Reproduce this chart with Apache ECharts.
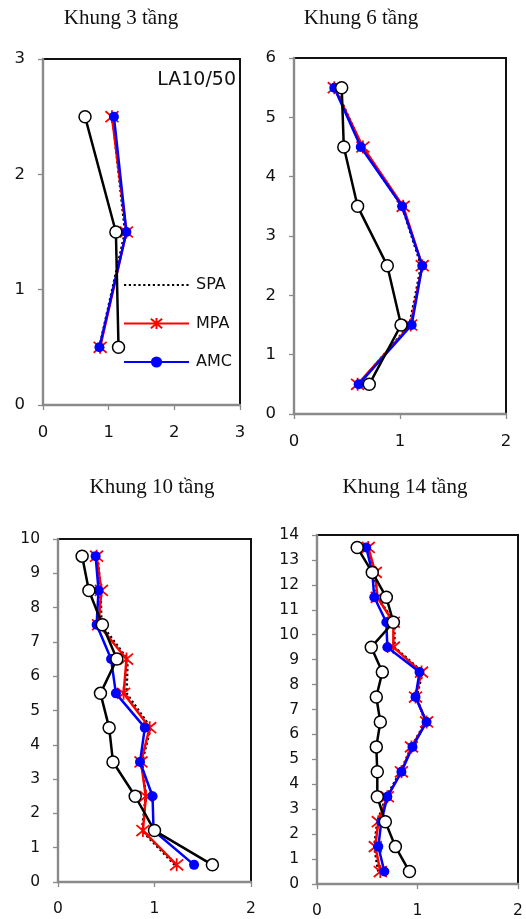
<!DOCTYPE html>
<html>
<head>
<meta charset="utf-8">
<script src="https://cdn.jsdelivr.net/npm/echarts@6/dist/echarts.min.js"></script>
<style>
  html, body { margin: 0; padding: 0; background: #fff; }
  #chart { width: 526px; height: 919px; }
</style>
</head>
<body>
<div id="chart"></div>
<script>
// Storey drift profiles, listed from the first storey (bottom) upward.
// Each storey value is plotted at mid-height (0.5, 1.5, ...).

// Khung 3 tầng
const rha3 = [1.15, 1.11, 0.64];
const spa3 = [0.86, 1.25, 1.06];
const mpa3 = [0.87, 1.27, 1.05];
const amc3 = [0.86, 1.27, 1.08];

// Khung 6 tầng
const rha6 = [0.71, 1.01, 0.88, 0.60, 0.47, 0.45];
const spa6 = [0.61, 1.09, 1.20, 1.02, 0.64, 0.39];
const mpa6 = [0.60, 1.10, 1.21, 1.03, 0.65, 0.38];
const amc6 = [0.61, 1.11, 1.21, 1.02, 0.63, 0.38];

// Khung 10 tầng
const rha10 = [1.60, 1.00, 0.80, 0.57, 0.53, 0.44, 0.61, 0.46, 0.32, 0.25];
const spa10 = [1.21, 0.87, 0.91, 0.87, 0.96, 0.71, 0.72, 0.45, 0.44, 0.41];
const mpa10 = [1.23, 0.88, 0.91, 0.86, 0.95, 0.68, 0.71, 0.42, 0.45, 0.40];
const amc10 = [1.41, 0.99, 0.98, 0.85, 0.90, 0.60, 0.55, 0.40, 0.42, 0.39];

// Khung 14 tầng
const rha14 = [0.92, 0.78, 0.68, 0.60, 0.60, 0.59, 0.63, 0.59, 0.65, 0.54, 0.76, 0.69, 0.55, 0.40];
const spa14 = [0.61, 0.57, 0.60, 0.69, 0.83, 0.94, 1.08, 0.99, 1.05, 0.77, 0.77, 0.60, 0.57, 0.50];
const mpa14 = [0.63, 0.58, 0.61, 0.70, 0.84, 0.94, 1.09, 0.98, 1.04, 0.76, 0.76, 0.60, 0.58, 0.51];
const amc14 = [0.67, 0.61, 0.64, 0.70, 0.84, 0.95, 1.09, 0.98, 1.02, 0.70, 0.69, 0.57, 0.55, 0.49];

// Axis tick values
const xTicks3 = [0, 1, 2, 3];
const xTicks2 = [0, 1, 2];
const yTicks3 = [0, 1, 2, 3];
const yTicks6 = [0, 1, 2, 3, 4, 5, 6];
const yTicks10 = [0, 1, 2, 3, 4, 5, 6, 7, 8, 9, 10];
const yTicks14 = [0, 1, 2, 3, 4, 5, 6, 7, 8, 9, 10, 11, 12, 13, 14];

const panelTitles = ['Khung 3 tầng', 'Khung 6 tầng', 'Khung 10 tầng', 'Khung 14 tầng'];
const legendNames = ['SPA', 'MPA', 'AMC'];

const panels = [
  { rha: rha3, spa: spa3, mpa: mpa3, amc: amc3, xt: xTicks3, yt: yTicks3,
    grid: { left: 43, top: 59, width: 197, height: 346 }, font: 16.5,
    title: [121, 18] },
  { rha: rha6, spa: spa6, mpa: mpa6, amc: amc6, xt: xTicks2, yt: yTicks6,
    grid: { left: 294, top: 58, width: 212, height: 356 }, font: 16.5,
    title: [361, 18] },
  { rha: rha10, spa: spa10, mpa: mpa10, amc: amc10, xt: xTicks2, yt: yTicks10,
    grid: { left: 58, top: 539, width: 193, height: 343 }, font: 15.5,
    title: [152, 487] },
  { rha: rha14, spa: spa14, mpa: mpa14, amc: amc14, xt: xTicks2, yt: yTicks14,
    grid: { left: 317, top: 535, width: 201, height: 351 }, font: 15.5,
    title: [405, 487] }
];

const AXIS_GREY = '#8a8a8a';
const asterisk = 'path://M0,0L10,10M10,0L0,10M5,-1L5,11';

function points(vals) {
  return vals.map((v, i) => [v, i + 0.5]);
}

const grids = [], xAxes = [], yAxes = [], series = [], graphics = [];

panels.forEach((p, k) => {
  grids.push(Object.assign({ show: true, borderColor: '#111', borderWidth: 2,
    backgroundColor: '#fff', z: 0 }, p.grid));
  const axisCommon = {
    z: 6,
    axisLine: { show: true, onZero: false, lineStyle: { color: AXIS_GREY, width: 2.4 } },
    axisTick: { show: true, inside: false, length: 5, lineStyle: { color: AXIS_GREY, width: 1.3 } },
    splitLine: { show: false },
    axisLabel: { color: '#111', fontFamily: 'DejaVu Sans', fontSize: p.font, margin: 18 }
  };
  xAxes.push(Object.assign({
    type: 'value', gridIndex: k,
    min: p.xt[0], max: p.xt[p.xt.length - 1], interval: 1
  }, axisCommon, { axisLabel: Object.assign({}, axisCommon.axisLabel, { margin: 19 }) }));
  yAxes.push(Object.assign({
    type: 'value', gridIndex: k,
    min: p.yt[0], max: p.yt[p.yt.length - 1], interval: 1
  }, axisCommon));

  series.push({
    name: 'SPA', type: 'line', xAxisIndex: k, yAxisIndex: k, z: 2,
    data: points(p.spa), showSymbol: false, symbol: 'none',
    lineStyle: { color: '#000', width: 2.6, type: [2.2, 2.6] },
    itemStyle: { color: '#000' }, animation: false
  });
  series.push({
    name: 'MPA', type: 'line', xAxisIndex: k, yAxisIndex: k, z: 3,
    data: points(p.mpa), symbol: asterisk, symbolSize: 13,
    lineStyle: { color: '#ff0000', width: 2.5 },
    itemStyle: { color: '#ff0000', borderColor: '#ff0000', borderWidth: 1.8 },
    animation: false
  });
  series.push({
    name: 'AMC', type: 'line', xAxisIndex: k, yAxisIndex: k, z: 4,
    data: points(p.amc), symbol: 'circle', symbolSize: 10,
    lineStyle: { color: '#0000ff', width: 2.5 },
    itemStyle: { color: '#0000ff', borderWidth: 0 }, animation: false
  });
  series.push({
    name: 'RHA', type: 'line', xAxisIndex: k, yAxisIndex: k, z: 5,
    data: points(p.rha), symbol: 'circle', symbolSize: 12,
    lineStyle: { color: '#000', width: 2.5 },
    itemStyle: { color: '#fff', borderColor: '#000', borderWidth: 1.5 },
    animation: false
  });

  graphics.push({
    type: 'text', x: p.title[0], y: p.title[1], z: 10,
    style: { text: panelTitles[k], font: '21px "Liberation Serif", "Times New Roman", serif',
      fill: '#111', textAlign: 'center', textVerticalAlign: 'middle' }
  });
});

graphics.push({
  type: 'text', x: 236, y: 80, z: 10,
  style: { text: 'LA10/50', font: '19px "DejaVu Sans", sans-serif', fill: '#111',
    textAlign: 'right', textVerticalAlign: 'middle' }
});

const chart = echarts.init(document.getElementById('chart'), null, { renderer: 'canvas' });
chart.setOption({
  animation: false,
  backgroundColor: '#fff',
  grid: grids,
  xAxis: xAxes,
  yAxis: yAxes,
  legend: {
    data: [
      { name: 'SPA', itemStyle: { opacity: 0 } },
      { name: 'MPA' },
      { name: 'AMC' }
    ],
    orient: 'vertical',
    left: 118, top: 272,
    itemWidth: 65, itemHeight: 14, itemGap: 22.5,
    textStyle: { fontFamily: 'DejaVu Sans', fontSize: 16, color: '#111', padding: [0, 0, 0, 2] },
    selectedMode: false
  },
  graphic: graphics,
  series: series
});
</script>
</body>
</html>
